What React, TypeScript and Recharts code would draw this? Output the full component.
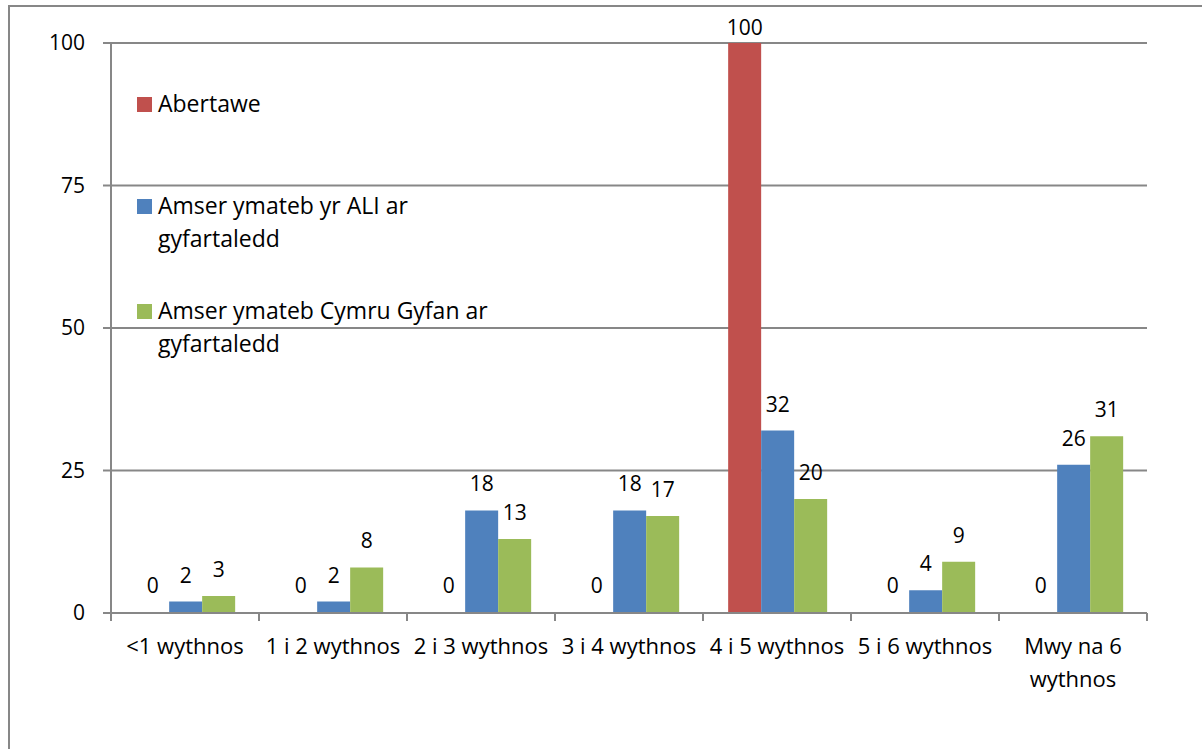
import { BarChart, Bar, XAxis, YAxis, CartesianGrid, Legend, LabelList } from "recharts";

const categories = [
  "<1 wythnos",
  "1 i 2 wythnos",
  "2 i 3 wythnos",
  "3 i 4 wythnos",
  "4 i 5 wythnos",
  "5 i 6 wythnos",
  "Mwy na 6 wythnos",
];
const abertawe = [0, 0, 0, 0, 100, 0, 0];
const aliAverage = [2, 2, 18, 18, 32, 4, 26];
const walesAverage = [3, 8, 13, 17, 20, 9, 31];
const yTicks = [0, 25, 50, 75, 100];

const seriesKeys = ["abertawe", "ali", "wales"];
const seriesNames: Record<string, string> = {
  abertawe: "Abertawe",
  ali: "Amser ymateb yr ALI ar gyfartaledd",
  wales: "Amser ymateb Cymru Gyfan ar gyfartaledd",
};

const data = categories.map((name, i) => ({
  name,
  abertawe: abertawe[i],
  ali: aliAverage[i],
  wales: walesAverage[i],
}));

const FONT = "'Open Sans', Lato, sans-serif";
const FS = 21;
const GRID = "#878787";
const PLOT_TOP = 43;
const TICK_MARGIN = 26;

const ValueLabel = (props: any) => {
  const { x, y, width, value } = props;
  let base = y - 19;
  if (base - 15 < PLOT_TOP) base = y - 8;
  return (
    <text x={x + width / 2} y={base} textAnchor="middle" fontFamily={FONT} fontSize={FS} fill="#000">
      {value}
    </text>
  );
};

const CategoryTick = (props: any) => {
  const { x, y, payload, index, visibleTicksCount, width } = props;
  const half = payload.offset ?? width / (2 * visibleTicksCount);
  const axisY = y - TICK_MARGIN;
  const label: string = payload.value;
  let lines = [label];
  if (label.length > 14) {
    const cut = label.lastIndexOf(" ");
    lines = [label.slice(0, cut), label.slice(cut + 1)];
  }
  return (
    <g>
      <line x1={x - half} x2={x - half} y1={axisY} y2={axisY + 8} stroke={GRID} strokeWidth={2} />
      {index === visibleTicksCount - 1 && (
        <line x1={x + half} x2={x + half} y1={axisY} y2={axisY + 8} stroke={GRID} strokeWidth={2} />
      )}
      <text x={x} y={y} textAnchor="middle" fontFamily={FONT} fontSize={22} fill="#000">
        {lines.map((l, i) => (
          <tspan key={i} x={x} dy={i === 0 ? 15 : 33}>
            {l}
          </tspan>
        ))}
      </text>
    </g>
  );
};

const itemGaps = [69, 39, 0];

const LegendContent = (props: any) => {
  const payload = [...(props.payload || [])].sort(
    (a: any, b: any) => seriesKeys.indexOf(a.dataKey) - seriesKeys.indexOf(b.dataKey)
  );
  return (
    <div style={{ fontFamily: FONT, fontSize: 23, lineHeight: "33px", color: "#000" }}>
      {payload.map((p: any, i: number) => (
        <div key={i} style={{ display: "flex", alignItems: "flex-start", marginBottom: itemGaps[i] }}>
          <span
            style={{
              width: 15,
              height: 15,
              background: p.color,
              marginTop: 10,
              marginRight: 6,
              flex: "none",
            }}
          />
          <span style={{ width: 345 }}>{p.value}</span>
        </div>
      ))}
    </div>
  );
};

export default function App() {
  return (
    <div style={{ position: "absolute", left: 0, top: 0, width: 1202, height: 749, overflow: "hidden", background: "#fff" }}>
      <div
        style={{
          position: "absolute",
          left: 8,
          top: 5,
          width: 1300,
          height: 800,
          borderTop: `2px solid ${GRID}`,
          borderLeft: `2px solid ${GRID}`,
        }}
      />
      <div style={{ position: "absolute", left: 0, top: 0 }}>
        <BarChart
          width={1202}
          height={749}
          data={data}
          margin={{ top: PLOT_TOP, right: 55, bottom: 76, left: 0 }}
          barCategoryGap="17%"
          barGap={0}
        >
          <CartesianGrid horizontal vertical={false} stroke={GRID} strokeWidth={2} />
          <XAxis
            dataKey="name"
            height={60}
            tickSize={0}
            tickMargin={TICK_MARGIN}
            interval={0}
            tick={<CategoryTick />}
            axisLine={{ stroke: GRID, strokeWidth: 2 }}
            tickLine={false}
          />
          <YAxis
            width={111}
            domain={[0, 100]}
            ticks={yTicks}
            tickSize={8}
            tickMargin={18}
            axisLine={{ stroke: GRID, strokeWidth: 2 }}
            tickLine={{ stroke: GRID, strokeWidth: 2 }}
            tick={{ fontFamily: FONT, fontSize: FS, fill: "#000" }}
          />
          <Legend
            layout="vertical"
            align="center"
            verticalAlign="middle"
            wrapperStyle={{ left: 137, top: 87, width: 400 }}
            content={<LegendContent />}
          />
          <Bar dataKey="abertawe" name={seriesNames.abertawe} fill="#C0504D" minPointSize={1} isAnimationActive={false}>
            <LabelList dataKey="abertawe" content={<ValueLabel />} />
          </Bar>
          <Bar dataKey="ali" name={seriesNames.ali} fill="#4F81BD" isAnimationActive={false}>
            <LabelList dataKey="ali" content={<ValueLabel />} />
          </Bar>
          <Bar dataKey="wales" name={seriesNames.wales} fill="#9BBB59" isAnimationActive={false}>
            <LabelList dataKey="wales" content={<ValueLabel />} />
          </Bar>
        </BarChart>
      </div>
    </div>
  );
}
